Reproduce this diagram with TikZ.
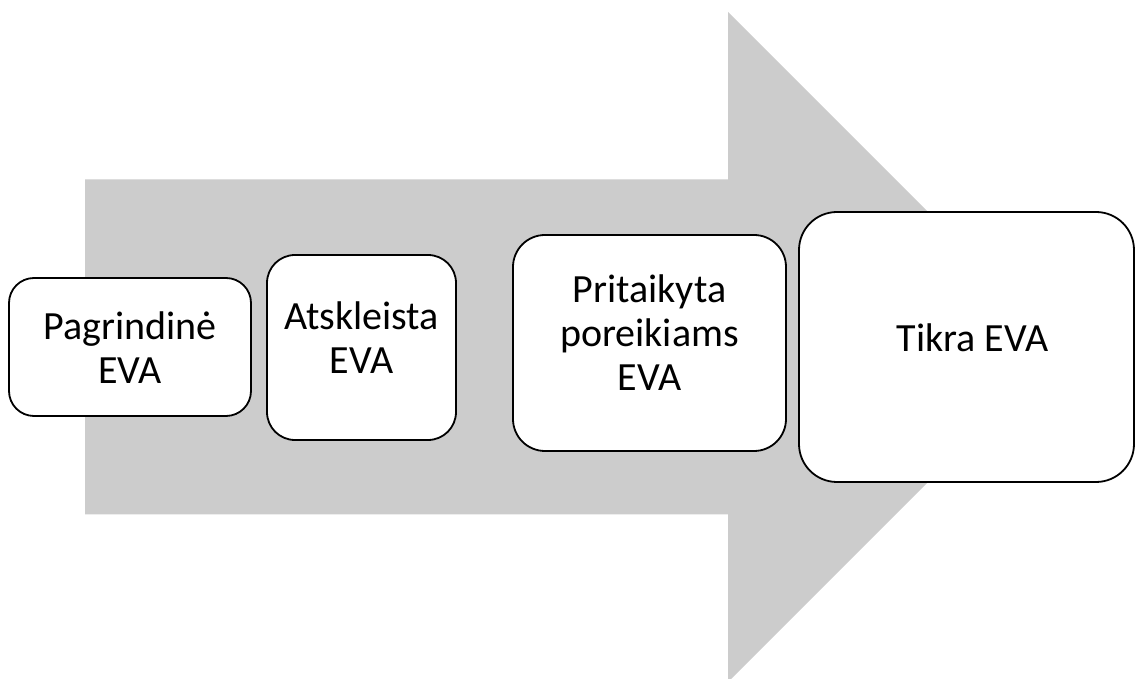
\documentclass[tikz,border=0pt]{standalone}
\usepackage{fontspec}
\setmainfont{Carlito}
\begin{document}
\begin{tikzpicture}[x=1pt,y=1pt,
  stage/.style={draw=black, line width=1.8pt, fill=white, inner sep=0pt},
  stagetext/.style={inner sep=0pt, align=center, font=\fontsize{40}{44}\selectfont}]
\clip (0,0) rectangle (1136,678);
\fill[white] (0,0) rectangle (1136,678);
% big arrow
\fill[fill={rgb,255:red,204;green,204;blue,204}]
  (85,498.5) -- (728,498.5) -- (728,666) -- (1063,331) -- (728,-4) -- (728,163.5) -- (85,163.5) -- cycle;
% stages
\node[stage, minimum width=242pt, minimum height=138pt, rounded corners=25pt] (a) at (130,331) {};
\node[stage, minimum width=189pt, minimum height=185pt, rounded corners=28pt] (b) at (361.5,330.5) {};
\node[stage, minimum width=273pt, minimum height=216pt, rounded corners=32pt] (c) at (649.5,335) {};
\node[stage, minimum width=335pt, minimum height=270pt, rounded corners=38pt] (d) at (966.5,331) {};
% texts
\node[stagetext] (at) at ([yshift=-1pt]a.center) {Pagrindinė\\EVA};
\node[stagetext] (bt) at ([yshift=10pt]b.center) {Atskleista\\EVA};
\node[stagetext] (ct) at ([yshift=10pt]c.center) {Pritaikyta\\poreikiams\\EVA};
\node[stagetext] (dt) at ([xshift=6pt,yshift=9pt]d.center) {Tikra EVA};
\end{tikzpicture}
\end{document}
